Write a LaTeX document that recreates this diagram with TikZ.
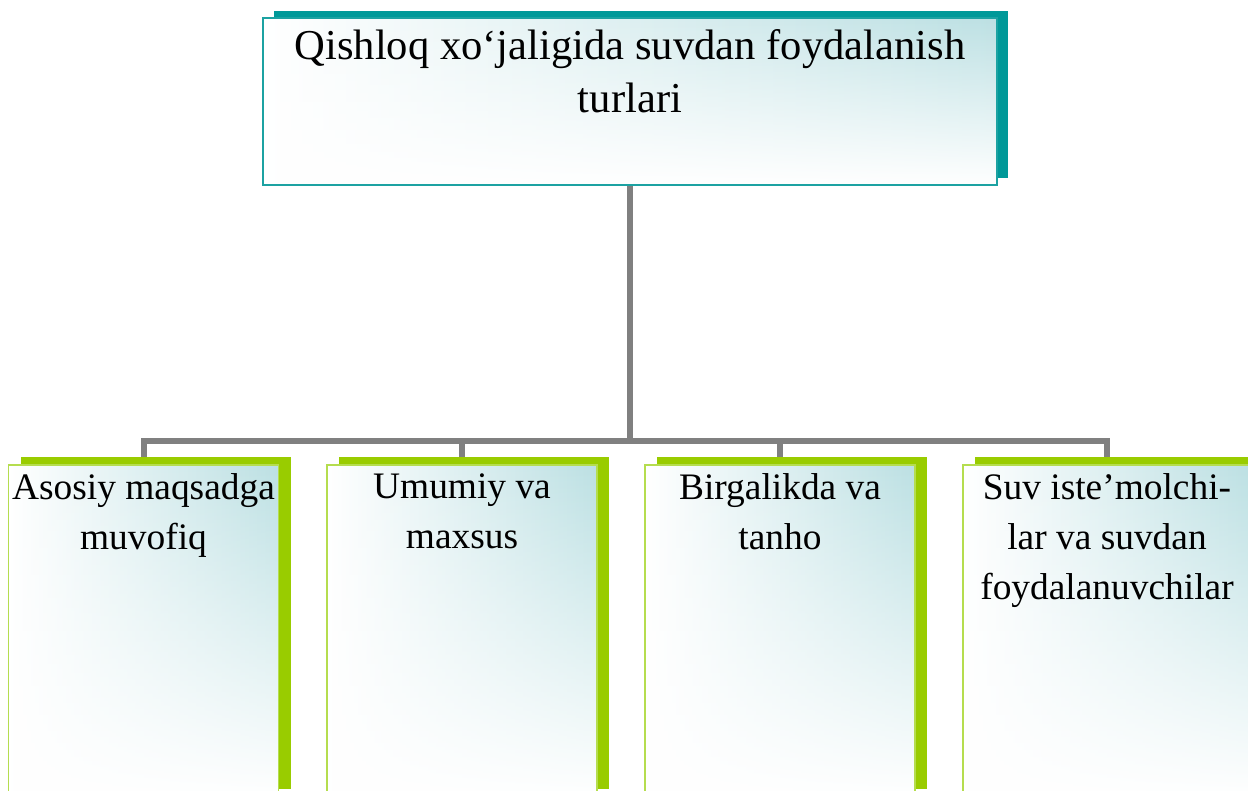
\documentclass[tikz,border=0pt]{standalone}
\usepackage{fontspec}
\setmainfont{Liberation Serif}
\usetikzlibrary{positioning,shadows,backgrounds,fadings}
\definecolor{tealdark}{HTML}{009999}
\definecolor{teallight}{HTML}{BCE0E3}
\definecolor{tealline}{HTML}{1CA2A2}
\definecolor{greendark}{HTML}{99CC00}
\definecolor{greenline}{HTML}{B5DD4F}
\definecolor{linkgray}{HTML}{808080}
\tikzset{
  boxfill/.style={left color=white, right color=teallight,
    path picture={\fill[white, path fading=north] (path picture bounding box.south west)
      rectangle (path picture bounding box.north east);}},
  mainbox/.style={boxfill, draw=tealline, line width=0.75pt,
    minimum width=367pt, minimum height=83.5pt, inner sep=0pt,
    drop shadow={shadow xshift=5.25pt, shadow yshift=3.5pt, fill=tealdark, opacity=1}},
  typebox/.style={boxfill, draw=greenline, line width=0.75pt,
    minimum width=135pt, minimum height=166pt, inner sep=0pt,
    drop shadow={shadow xshift=6pt, shadow yshift=4pt, fill=greendark, opacity=1}},
  maintext/.style={inner sep=0pt, align=center, font=\fontsize{21.3}{26.5}\selectfont},
  typetext/.style={inner sep=0pt, align=center, font=\fontsize{18.7}{25}\selectfont},
  link/.style={draw=linkgray, line width=3pt}
}
\begin{document}
\begin{tikzpicture}[x=0.5pt,y=0.5pt]
  \useasboundingbox (0,0) rectangle (1248,791);
  %--- Top box
  \node[mainbox] (top) at (630,689.5) {};
  \node[maintext, below=6pt of top.north] (toptext)
    {Qishloq xo‘jaligida suvdan foydalanish\\turlari};
  %--- Types
  \node[typebox] (b1) at (143.5,160) {};
  \node[typebox] (b2) at (462,160) {};
  \node[typebox] (b3) at (780,160) {};
  \node[typebox, minimum width=144pt] (b4) at (1107,160) {};
  \node[typetext, below=4.5pt of b1.north] (t1) {Asosiy maqsadga\\muvofiq};
  \node[typetext, below=4.5pt of b2.north] (t2) {Umumiy va\\maxsus};
  \node[typetext, below=4.5pt of b3.north] (t3) {Birgalikda va\\tanho};
  \node[typetext, below=4.5pt of b4.north] (t4) {Suv iste’molchi-\\lar va suvdan\\foydalanuvchilar};
  %--- Links
  \coordinate (hub) at (630,350);
  \begin{scope}[on background layer]
    \draw[link] (top.south) -- (hub);
    \draw[link] (b1.north) |- (hub) -| (b4.north);
    \draw[link] (b2.north) -- (b2.north |- hub);
    \draw[link] (b3.north) -- (b3.north |- hub);
  \end{scope}
\end{tikzpicture}
\end{document}
